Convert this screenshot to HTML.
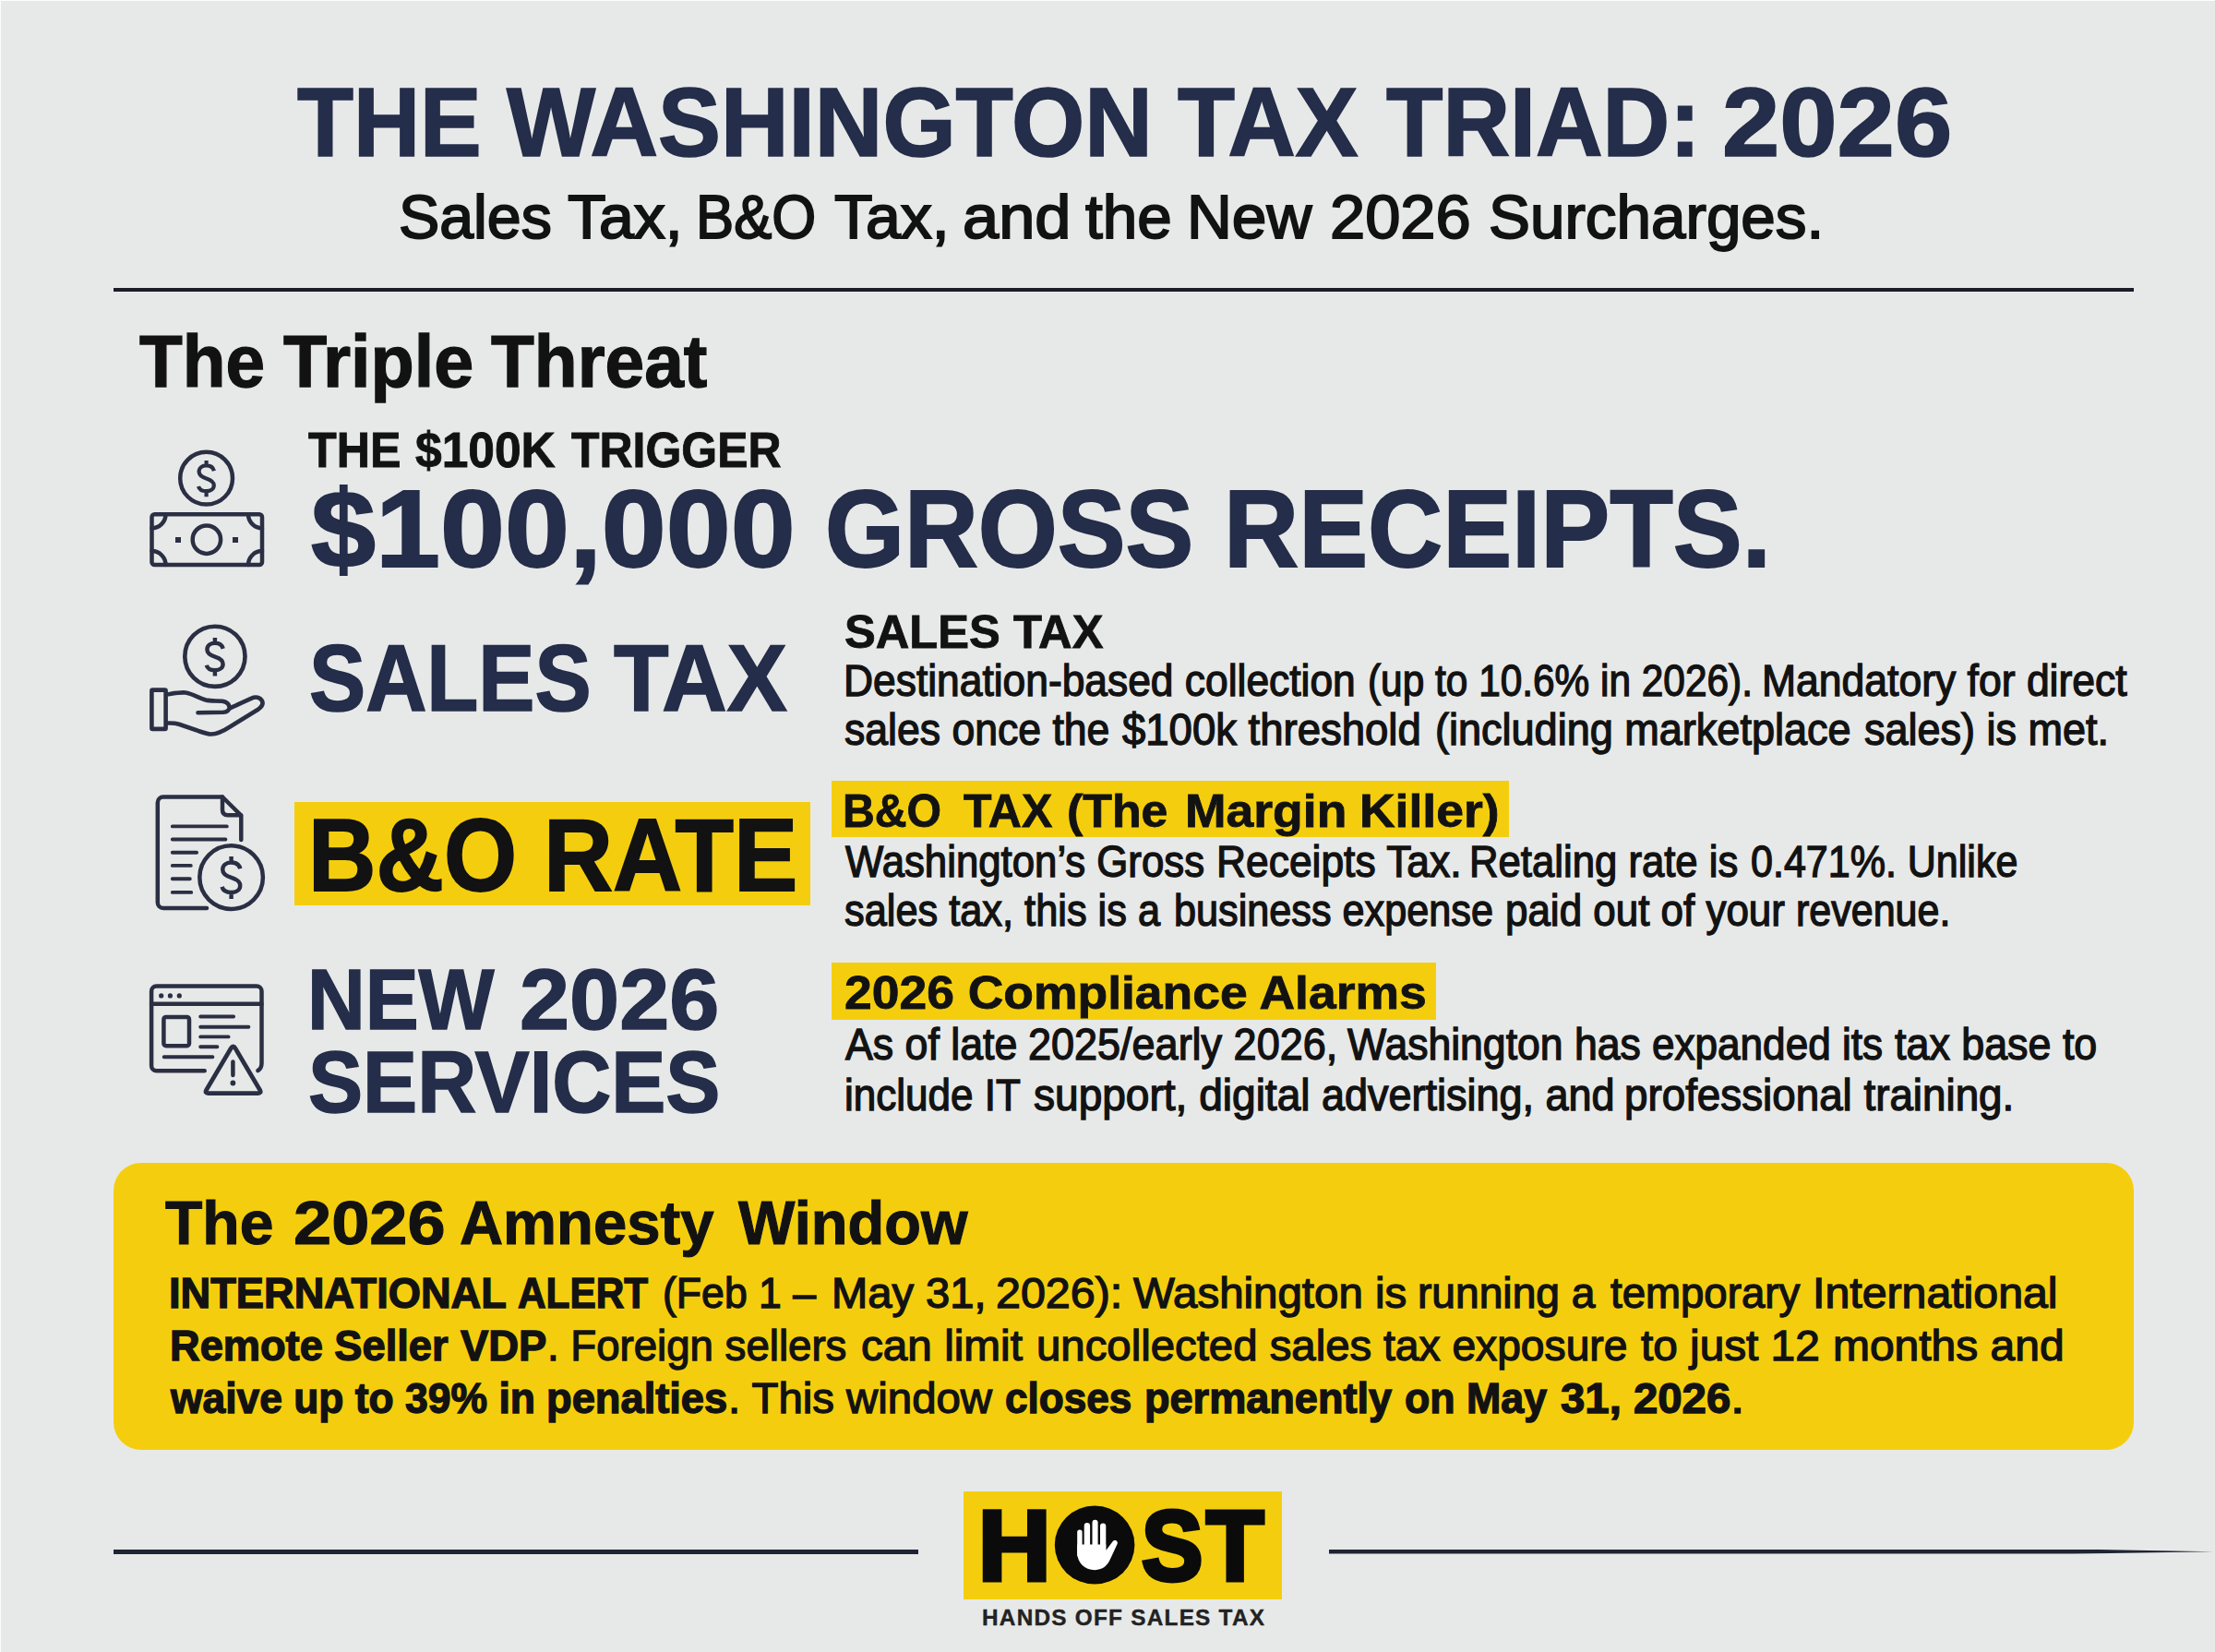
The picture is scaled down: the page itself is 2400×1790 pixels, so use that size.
<!DOCTYPE html>
<html lang="en"><head><meta charset="utf-8"><title>The Washington Tax Triad: 2026</title>
<style>
html,body{margin:0;padding:0;background:#e7e9e8}
body{width:2400px;height:1790px;background:#e7e9e8;position:relative;overflow:hidden;font-family:'Liberation Sans', sans-serif}
.t{position:absolute;white-space:nowrap;line-height:1;transform-origin:0 0;font-weight:400}
.b{font-weight:700}
.r{position:absolute}
svg{position:absolute;left:0;top:0;overflow:visible}
</style></head><body>
<div class="r" style="left:123px;top:311.8px;width:2189px;height:4.5px;background:#1b1e27"></div>
<div class="r" style="left:319px;top:869.3px;width:558.7px;height:111.5px;background:#f4ce0e"></div>
<div class="r" style="left:901px;top:845.5px;width:734px;height:61.5px;background:#f4ce0e"></div>
<div class="r" style="left:901px;top:1043px;width:655px;height:62px;background:#f4ce0e"></div>
<div class="r" style="left:123px;top:1259.5px;width:2189px;height:311px;background:#f4ce0e;border-radius:30px"></div>
<div class="r" style="left:123px;top:1678.8px;width:872px;height:5px;background:#1e2433"></div>
<div class="r" style="left:1440px;top:1678.6px;width:958px;height:5px;background:#1e2433;clip-path:polygon(0 0,84% 0,100% 55%,84% 100%,0 100%)"></div>
<div class="r" style="left:1044px;top:1615.5px;width:345.3px;height:117.5px;background:#f4ce0e"></div>
<div class="r" style="left:0;top:0;width:2400px;height:1px;background:#fbfcfc"></div>
<div class="r" style="left:0;top:0;width:1px;height:1790px;background:#fbfcfc"></div>

<svg width="2400" height="1790" viewBox="0 0 2400 1790" fill="none" stroke="#2a2f43" stroke-width="4.5" stroke-linecap="round" stroke-linejoin="round">
<defs>
<g id="dlr"><path d="M8.3,-8.2C7.4,-11.8 4.3,-14 0,-14C-4.8,-14 -8,-11.2 -8,-7.4C-8,-3.4 -5,-1.6 0,0C5,1.6 8.2,3.4 8.2,7.4C8.2,11.2 5,13.8 0,13.8C-4.6,13.8 -7.8,11.6 -8.6,8.6M0,-19.5V-14M0,13.8V19.8" stroke-linecap="butt"/></g>
</defs>
<!-- icon 1: coin over banknote -->
<g>
<circle cx="223.6" cy="518.2" r="28.4"/>
<use href="#dlr" transform="translate(223.6,518.4)" stroke-width="4.2"/>
<rect x="164.5" y="557.2" width="119.5" height="54.9" rx="3"/>
<circle cx="223.9" cy="584.7" r="15.2"/>
<path d="M179.5,557.2A15,15 0 0 1 164.5,572.2M269,557.2A15,15 0 0 0 284,572.2M179.5,612.1A15,15 0 0 0 164.5,597.1M269,612.1A15,15 0 0 1 284,597.1"/>
<rect x="190" y="582" width="6" height="6" fill="#2a2f43" stroke="none"/>
<rect x="252" y="582" width="6" height="6" fill="#2a2f43" stroke="none"/>
</g>
<!-- icon 2: coin over hand -->
<g stroke-width="4.6">
<circle cx="232.9" cy="711.3" r="32.6"/>
<use href="#dlr" transform="translate(232.9,711.6) scale(1.06)" stroke-width="4.2"/>
<rect x="164.4" y="747.6" width="15.2" height="42.3" rx="1"/>
<path d="M181.8,752.2C190,751 196,750 201,750.5C208,751.5 215,756 223,758.5C229,760 236,759 241,759.8C245,760.5 248,763 248.6,766C249,769 246,771.5 242,771.8L214.5,772.3"/>
<path d="M249.5,767.2L272,756.8C277,754.5 282,755.5 284,759.5C285.5,763 283.5,766 280,768.5L250,787C243,791.5 236,795.5 229,795.5C224,795.5 218,793 213,791.3L194,784.8C190,783.5 186,783.3 181.8,783.5"/>
</g>
<!-- icon 3: document with coin -->
<g>
<path d="M261.3,910V883.6L241,863.5H177C173.5,863.5 170.8,866.2 170.8,869.7V977.8C170.8,981.3 173.5,984 177,984H224"/>
<path d="M241,863.5V877.5Q241,883.2 246.7,883.2H261"/>
<path d="M186.8,895.4H245.8M186.8,909.5H244.4M186.8,923.7H213.1M186.8,937.9H206.8M186.8,952.2H205.8M186.8,966.9H207.2" stroke-width="3.9"/>
<circle cx="250.6" cy="950.6" r="34.3"/>
<use href="#dlr" transform="translate(250.6,950.8) scale(1.17)" stroke-width="3.8"/>
</g>
<!-- icon 4: browser window with warning -->
<g>
<path d="M221.7,1160.3H169.6C166.5,1160.3 164.1,1157.8 164.1,1154.8V1074.1C164.1,1071 166.5,1068.6 169.6,1068.6H278C281,1068.6 283.5,1071 283.5,1074.1V1152C283.5,1155.5 282,1158.5 279.5,1160"/>
<path d="M164.1,1087.7H283.5"/>
<circle cx="174.7" cy="1078.9" r="2.6" fill="#2a2f43" stroke="none"/>
<circle cx="184.4" cy="1078.9" r="2.6" fill="#2a2f43" stroke="none"/>
<circle cx="194.3" cy="1078.9" r="2.6" fill="#2a2f43" stroke="none"/>
<rect x="177.4" y="1101.9" width="27.6" height="31.3" rx="2.5"/>
<path d="M217.2,1101.5H253.1M217.2,1112.7H269.4M217.2,1123.4H247.6M217.2,1134.2H235.4M177.7,1145.3H230.4" stroke-width="3.9"/>
<path d="M250.3,1135.8Q252.6,1132 254.9,1135.8L281.6,1181Q283.6,1184.6 279.6,1184.6H225.6Q221.6,1184.6 223.6,1181Z" stroke-width="4.7"/>
<path d="M252.4,1150.6V1165.1"/>
<circle cx="252.4" cy="1173.5" r="2.9" fill="#2a2f43" stroke="none"/>
</g>
</svg>

<div><span class="t b" style="left:321.5px;top:80.1px;font-size:105.04px;transform:scaleX(0.9498);color:#242d49;-webkit-text-stroke:1.72px #242d49">THE</span> <span class="t b" style="left:549.1px;top:80.1px;font-size:105.04px;transform:scaleX(0.9697);color:#242d49;-webkit-text-stroke:1.72px #242d49">WASHINGTON</span> <span class="t b" style="left:1275.5px;top:80.1px;font-size:105.04px;transform:scaleX(0.9655);color:#242d49;-webkit-text-stroke:1.72px #242d49">TAX</span> <span class="t b" style="left:1502.0px;top:80.1px;font-size:105.04px;transform:scaleX(0.9568);color:#242d49;-webkit-text-stroke:1.72px #242d49">TRIAD:</span> <span class="t b" style="left:1865.6px;top:80.1px;font-size:105.04px;transform:scaleX(1.0667);color:#242d49;-webkit-text-stroke:1.72px #242d49">2026</span></div>
<div><span class="t" style="left:432.4px;top:200.7px;font-size:67.30px;transform:scaleX(0.9855);color:#121212;-webkit-text-stroke:1.96px #121212">Sales</span> <span class="t" style="left:615.0px;top:200.7px;font-size:67.30px;transform:scaleX(1.0102);color:#121212;-webkit-text-stroke:1.96px #121212">Tax,</span> <span class="t" style="left:754.0px;top:200.7px;font-size:67.30px;transform:scaleX(0.9162);color:#121212;-webkit-text-stroke:1.96px #121212">B&amp;O</span> <span class="t" style="left:903.9px;top:200.7px;font-size:67.30px;transform:scaleX(1.0102);color:#121212;-webkit-text-stroke:1.96px #121212">Tax,</span> <span class="t" style="left:1042.7px;top:200.7px;font-size:67.30px;transform:scaleX(1.0458);color:#121212;-webkit-text-stroke:1.96px #121212">and</span> <span class="t" style="left:1175.5px;top:200.7px;font-size:67.30px;transform:scaleX(1.0022);color:#121212;-webkit-text-stroke:1.96px #121212">the</span> <span class="t" style="left:1286.1px;top:200.7px;font-size:67.30px;transform:scaleX(1.0045);color:#121212;-webkit-text-stroke:1.96px #121212">New</span> <span class="t" style="left:1440.9px;top:200.7px;font-size:67.30px;transform:scaleX(1.0192);color:#121212;-webkit-text-stroke:1.96px #121212">2026</span> <span class="t" style="left:1613.2px;top:200.7px;font-size:67.30px;transform:scaleX(1.0011);color:#121212;-webkit-text-stroke:1.96px #121212">Surcharges.</span></div>
<div><span class="t b" style="left:151.4px;top:351.8px;font-size:79.28px;transform:scaleX(0.9655);color:#121212;-webkit-text-stroke:1.3px #121212">The</span> <span class="t b" style="left:306.8px;top:351.8px;font-size:79.28px;transform:scaleX(0.9751);color:#121212;-webkit-text-stroke:1.3px #121212">Triple</span> <span class="t b" style="left:531.7px;top:351.8px;font-size:79.28px;transform:scaleX(0.9674);color:#121212;-webkit-text-stroke:1.3px #121212">Threat</span></div>
<div><span class="t b" style="left:334.0px;top:461.4px;font-size:53.51px;transform:scaleX(0.9390);color:#121212;-webkit-text-stroke:0.88px #121212">THE</span> <span class="t b" style="left:450.4px;top:461.4px;font-size:53.51px;transform:scaleX(0.9631);color:#121212;-webkit-text-stroke:0.88px #121212">$100K</span> <span class="t b" style="left:618.5px;top:461.4px;font-size:53.51px;transform:scaleX(0.9337);color:#121212;-webkit-text-stroke:0.88px #121212">TRIGGER</span></div>
<div><span class="t b" style="left:336.8px;top:513.5px;font-size:118.20px;transform:scaleX(1.0646);color:#242d49;-webkit-text-stroke:1.94px #242d49">$100,000</span> <span class="t b" style="left:894.1px;top:513.5px;font-size:118.20px;transform:scaleX(0.9353);color:#242d49;-webkit-text-stroke:1.94px #242d49">GROSS</span> <span class="t b" style="left:1326.4px;top:513.5px;font-size:118.20px;transform:scaleX(0.9505);color:#242d49;-webkit-text-stroke:1.94px #242d49">RECEIPTS.</span></div>
<div><span class="t b" style="left:334.7px;top:685.4px;font-size:101.07px;transform:scaleX(0.9069);color:#242d49;-webkit-text-stroke:1.66px #242d49">SALES</span> <span class="t b" style="left:665.0px;top:685.4px;font-size:101.07px;transform:scaleX(0.9651);color:#242d49;-webkit-text-stroke:1.66px #242d49">TAX</span></div>
<div><span class="t b" style="left:334.1px;top:871.6px;font-size:110.42px;transform:scaleX(0.9212);color:#121212;-webkit-text-stroke:1.81px #121212">B&amp;O</span> <span class="t b" style="left:589.3px;top:871.6px;font-size:110.42px;transform:scaleX(0.9417);color:#121212;-webkit-text-stroke:1.81px #121212">RATE</span></div>
<div><span class="t b" style="left:333.2px;top:1036.7px;font-size:93.14px;transform:scaleX(0.9324);color:#242d49;-webkit-text-stroke:1.53px #242d49">NEW</span> <span class="t b" style="left:563.3px;top:1036.7px;font-size:93.14px;transform:scaleX(1.0443);color:#242d49;-webkit-text-stroke:1.53px #242d49">2026</span></div>
<div class="t b" style="left:334.2px;top:1124.9px;font-size:95.13px;transform:scaleX(0.9314);color:#242d49;-webkit-text-stroke:1.56px #242d49">SERVICES</div>
<div class="t b" style="left:915.3px;top:659.7px;font-size:50.26px;transform:scaleX(1.0079);color:#121212;-webkit-text-stroke:0.82px #121212">SALES TAX</div>
<div><span class="t" style="left:914.2px;top:714.3px;font-size:47.28px;transform:scaleX(0.9384);color:#121212;-webkit-text-stroke:1.38px #121212">Destination-based collection</span> <span class="t" style="left:1481.8px;top:714.3px;font-size:47.28px;transform:scaleX(0.8965);color:#121212;-webkit-text-stroke:1.38px #121212">(up to 10.6% in 2026).</span> <span class="t" style="left:1909.0px;top:714.3px;font-size:47.28px;transform:scaleX(0.9414);color:#121212;-webkit-text-stroke:1.38px #121212">Mandatory for direct</span></div>
<div><span class="t" style="left:914.8px;top:766.5px;font-size:47.28px;transform:scaleX(0.9429);color:#121212;-webkit-text-stroke:1.38px #121212">sales once the</span> <span class="t" style="left:1215.9px;top:766.5px;font-size:47.28px;transform:scaleX(0.9626);color:#121212;-webkit-text-stroke:1.38px #121212">$100k threshold</span> <span class="t" style="left:1555.4px;top:766.5px;font-size:47.28px;transform:scaleX(0.9528);color:#121212;-webkit-text-stroke:1.38px #121212">(including marketplace</span> <span class="t" style="left:2019.9px;top:766.5px;font-size:47.28px;transform:scaleX(0.9515);color:#121212;-webkit-text-stroke:1.38px #121212">sales) is met.</span></div>
<div><span class="t b" style="left:913.2px;top:853.7px;font-size:50.12px;transform:scaleX(0.9617);color:#121212;-webkit-text-stroke:0.82px #121212">B&amp;O</span> <span class="t b" style="left:1044.3px;top:853.7px;font-size:50.12px;transform:scaleX(0.9969);color:#121212;-webkit-text-stroke:0.82px #121212">TAX</span> <span class="t b" style="left:1156.0px;top:853.7px;font-size:50.12px;transform:scaleX(1.0340);color:#121212;-webkit-text-stroke:0.82px #121212">(The</span> <span class="t b" style="left:1284.2px;top:853.7px;font-size:50.12px;transform:scaleX(1.0673);color:#121212;-webkit-text-stroke:0.82px #121212">Margin</span> <span class="t b" style="left:1472.7px;top:853.7px;font-size:50.12px;transform:scaleX(1.0672);color:#121212;-webkit-text-stroke:0.82px #121212">Killer)</span></div>
<div><span class="t" style="left:915.7px;top:910.3px;font-size:47.28px;transform:scaleX(0.9255);color:#121212;-webkit-text-stroke:1.38px #121212">Washington’s Gross</span> <span class="t" style="left:1318.1px;top:910.3px;font-size:47.28px;transform:scaleX(0.9388);color:#121212;-webkit-text-stroke:1.38px #121212">Receipts Tax.</span> <span class="t" style="left:1591.7px;top:910.3px;font-size:47.28px;transform:scaleX(0.9241);color:#121212;-webkit-text-stroke:1.38px #121212">Retaling rate is</span> <span class="t" style="left:1896.8px;top:910.3px;font-size:47.28px;transform:scaleX(0.9101);color:#121212;-webkit-text-stroke:1.38px #121212">0.471%. Unlike</span></div>
<div><span class="t" style="left:914.8px;top:963.4px;font-size:47.28px;transform:scaleX(0.9169);color:#121212;-webkit-text-stroke:1.38px #121212">sales tax, this is a</span> <span class="t" style="left:1271.7px;top:963.4px;font-size:47.28px;transform:scaleX(0.9144);color:#121212;-webkit-text-stroke:1.38px #121212">business expense</span> <span class="t" style="left:1630.9px;top:963.4px;font-size:47.28px;transform:scaleX(0.9296);color:#121212;-webkit-text-stroke:1.38px #121212">paid out of your</span> <span class="t" style="left:1945.8px;top:963.4px;font-size:47.28px;transform:scaleX(0.9101);color:#121212;-webkit-text-stroke:1.38px #121212">revenue.</span></div>
<div class="t b" style="left:915.0px;top:1051.5px;font-size:49.13px;transform:scaleX(1.0879);color:#121212;-webkit-text-stroke:0.8px #121212">2026 Compliance Alarms</div>
<div><span class="t" style="left:915.8px;top:1108.2px;font-size:47.28px;transform:scaleX(0.9457);color:#121212;-webkit-text-stroke:1.38px #121212">As of late</span> <span class="t" style="left:1113.5px;top:1108.2px;font-size:47.28px;transform:scaleX(0.9519);color:#121212;-webkit-text-stroke:1.38px #121212">2025/early 2026,</span> <span class="t" style="left:1459.9px;top:1108.2px;font-size:47.28px;transform:scaleX(0.9423);color:#121212;-webkit-text-stroke:1.38px #121212">Washington has</span> <span class="t" style="left:1789.8px;top:1108.2px;font-size:47.28px;transform:scaleX(0.9327);color:#121212;-webkit-text-stroke:1.38px #121212">expanded its</span> <span class="t" style="left:2053.0px;top:1108.2px;font-size:47.28px;transform:scaleX(0.9483);color:#121212;-webkit-text-stroke:1.38px #121212">tax base to</span></div>
<div><span class="t" style="left:915.1px;top:1162.5px;font-size:47.28px;transform:scaleX(0.9310);color:#121212;-webkit-text-stroke:1.38px #121212">include IT</span> <span class="t" style="left:1120.1px;top:1162.5px;font-size:47.28px;transform:scaleX(0.9743);color:#121212;-webkit-text-stroke:1.38px #121212">support, digital</span> <span class="t" style="left:1432.1px;top:1162.5px;font-size:47.28px;transform:scaleX(0.9514);color:#121212;-webkit-text-stroke:1.38px #121212">advertising, and</span> <span class="t" style="left:1760.3px;top:1162.5px;font-size:47.28px;transform:scaleX(0.9682);color:#121212;-webkit-text-stroke:1.38px #121212">professional training.</span></div>
<div><span class="t b" style="left:178.9px;top:1291.4px;font-size:67.10px;transform:scaleX(0.9839);color:#121212;-webkit-text-stroke:1.1px #121212">The</span> <span class="t b" style="left:317.7px;top:1291.4px;font-size:67.10px;transform:scaleX(1.1028);color:#121212;-webkit-text-stroke:1.1px #121212">2026</span> <span class="t b" style="left:497.5px;top:1291.4px;font-size:67.10px;transform:scaleX(0.9720);color:#121212;-webkit-text-stroke:1.1px #121212">Amnesty</span> <span class="t b" style="left:799.6px;top:1291.4px;font-size:67.10px;transform:scaleX(0.9689);color:#121212;-webkit-text-stroke:1.1px #121212">Window</span></div>
<div><span class="t b" style="left:182.5px;top:1378.2px;font-size:46.23px;transform:scaleX(0.9782);color:#121212;-webkit-text-stroke:1.4px #121212">INTERNATIONAL</span> <span class="t b" style="left:561.0px;top:1378.2px;font-size:46.23px;transform:scaleX(0.9156);color:#121212;-webkit-text-stroke:1.4px #121212">ALERT</span></div>
<div><span class="t" style="left:717.6px;top:1378.2px;font-size:46.30px;transform:scaleX(0.9632);color:#121212;-webkit-text-stroke:1.35px #121212">(Feb 1 –</span> <span class="t" style="left:900.9px;top:1378.2px;font-size:46.30px;transform:scaleX(1.0177);color:#121212;-webkit-text-stroke:1.35px #121212">May 31,</span> <span class="t" style="left:1078.9px;top:1378.2px;font-size:46.30px;transform:scaleX(1.0460);color:#121212;-webkit-text-stroke:1.35px #121212">2026):</span> <span class="t" style="left:1228.0px;top:1378.2px;font-size:46.30px;transform:scaleX(1.0250);color:#121212;-webkit-text-stroke:1.35px #121212">Washington is</span> <span class="t" style="left:1535.6px;top:1378.2px;font-size:46.30px;transform:scaleX(0.9969);color:#121212;-webkit-text-stroke:1.35px #121212">running a</span> <span class="t" style="left:1745.3px;top:1378.2px;font-size:46.30px;transform:scaleX(0.9847);color:#121212;-webkit-text-stroke:1.35px #121212">temporary</span> <span class="t" style="left:1964.3px;top:1378.2px;font-size:46.30px;transform:scaleX(1.0422);color:#121212;-webkit-text-stroke:1.35px #121212">International</span></div>
<div><span class="t b" style="left:183.8px;top:1435.1px;font-size:46.23px;transform:scaleX(0.9781);color:#121212;-webkit-text-stroke:1.4px #121212">Remote Seller</span> <span class="t b" style="left:498.7px;top:1435.1px;font-size:46.23px;transform:scaleX(0.9830);color:#121212;-webkit-text-stroke:1.4px #121212">VDP</span></div>
<div><span class="t" style="left:592.7px;top:1435.1px;font-size:46.30px;transform:scaleX(0.9849);color:#121212;-webkit-text-stroke:1.35px #121212">. Foreign sellers</span> <span class="t" style="left:933.0px;top:1435.1px;font-size:46.30px;transform:scaleX(1.0302);color:#121212;-webkit-text-stroke:1.35px #121212">can limit</span> <span class="t" style="left:1123.4px;top:1435.1px;font-size:46.30px;transform:scaleX(1.0227);color:#121212;-webkit-text-stroke:1.35px #121212">uncollected sales</span> <span class="t" style="left:1499.0px;top:1435.1px;font-size:46.30px;transform:scaleX(0.9973);color:#121212;-webkit-text-stroke:1.35px #121212">tax exposure</span> <span class="t" style="left:1778.1px;top:1435.1px;font-size:46.30px;transform:scaleX(1.0310);color:#121212;-webkit-text-stroke:1.35px #121212">to just 12</span> <span class="t" style="left:1986.2px;top:1435.1px;font-size:46.30px;transform:scaleX(1.0357);color:#121212;-webkit-text-stroke:1.35px #121212">months and</span></div>
<div><span class="t b" style="left:185.4px;top:1492.0px;font-size:46.23px;transform:scaleX(0.9603);color:#121212;-webkit-text-stroke:1.4px #121212">waive up to</span> <span class="t b" style="left:439.1px;top:1492.0px;font-size:46.23px;transform:scaleX(0.9632);color:#121212;-webkit-text-stroke:1.4px #121212">39% in</span> <span class="t b" style="left:592.0px;top:1492.0px;font-size:46.23px;transform:scaleX(0.9792);color:#121212;-webkit-text-stroke:1.4px #121212">penalties</span></div>
<div class="t" style="left:788.6px;top:1492.0px;font-size:46.30px;transform:scaleX(1.0231);color:#121212;-webkit-text-stroke:1.35px #121212">. This window</div>
<div><span class="t b" style="left:1088.6px;top:1492.0px;font-size:46.23px;transform:scaleX(0.9542);color:#121212;-webkit-text-stroke:1.4px #121212">closes</span> <span class="t b" style="left:1239.7px;top:1492.0px;font-size:46.23px;transform:scaleX(0.9755);color:#121212;-webkit-text-stroke:1.4px #121212">permanently</span> <span class="t b" style="left:1522.4px;top:1492.0px;font-size:46.23px;transform:scaleX(0.9673);color:#121212;-webkit-text-stroke:1.4px #121212">on May</span> <span class="t b" style="left:1690.8px;top:1492.0px;font-size:46.23px;transform:scaleX(1.0240);color:#121212;-webkit-text-stroke:1.4px #121212">31, 2026</span></div>
<div class="t" style="left:1874.7px;top:1492.0px;font-size:46.30px;transform:scaleX(1.2000);color:#121212;-webkit-text-stroke:1.35px #121212">.</div>
<div><span class="t b" style="left:1060.2px;top:1620.5px;font-size:108.12px;transform:scaleX(1.0044);color:#0b0b0b;-webkit-text-stroke:5px #0b0b0b">H</span><span class="t b" style="left:1144.0px;top:1620.5px;font-size:108.12px;transform:scaleX(1.0000);color:#0b0b0b;-webkit-text-stroke:5px #0b0b0b">O</span><span class="t b" style="left:1237.0px;top:1620.5px;font-size:108.12px;transform:scaleX(0.9186);color:#0b0b0b;-webkit-text-stroke:5px #0b0b0b">S</span><span class="t b" style="left:1307.4px;top:1620.5px;font-size:108.12px;transform:scaleX(0.9441);color:#0b0b0b;-webkit-text-stroke:5px #0b0b0b">T</span></div>
<div class="t b" style="left:1064.2px;top:1740.6px;font-size:24.35px;transform:scaleX(0.9990);color:#222;letter-spacing:1.261px;-webkit-text-stroke:0.4px #222">HANDS OFF SALES TAX</div>
<svg width="2400" height="1790" viewBox="0 0 2400 1790">
<ellipse cx="1186.1" cy="1674.1" rx="43.3" ry="42.5" fill="#0b0b0b"/>
<g fill="#ffffff">
<rect x="1167.2" y="1657.4" width="5.4" height="30" rx="2.7"/>
<rect x="1174.7" y="1650.1" width="6.4" height="35" rx="3.2"/>
<rect x="1183.5" y="1646.8" width="6.1" height="38" rx="3.05"/>
<rect x="1192" y="1650.4" width="6.3" height="35" rx="3.15"/>
<path d="M1167.2,1673.5V1682.5C1167.2,1693 1175,1701.2 1186.2,1701.2C1195.5,1701.2 1200.5,1695.5 1203.4,1688.6L1210.6,1673C1212,1669.4 1207.6,1667.4 1205.6,1670.2L1198.3,1680V1673.5Z"/>
</g>
</svg>

</body></html>
